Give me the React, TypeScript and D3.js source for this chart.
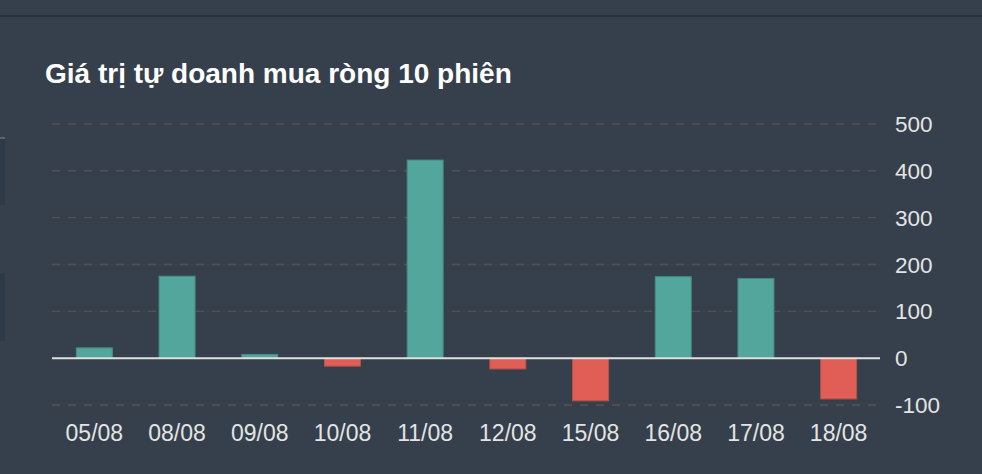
import React from "react";
import * as d3 from "d3";

const categories = ["05/08", "08/08", "09/08", "10/08", "11/08", "12/08", "15/08", "16/08", "17/08", "18/08"];
const values = [22, 175, 8, -17, 423, -23, -91, 174, 170, -87];
const yTicks = [-100, 0, 100, 200, 300, 400, 500];
const title = "Giá trị tự doanh mua ròng 10 phiên";

const W = 982;
const H = 474;
const FONT = "'Liberation Sans', Arial, Helvetica, sans-serif";

export default function App() {
  const x = d3
    .scaleBand<string>()
    .domain(categories)
    .range([53, 880])
    .paddingInner(0.565)
    .paddingOuter(0.2825);
  const y = d3.scaleLinear().domain([-100, 500]).range([405, 124]);
  const y0 = y(0);

  return (
    <div style={{ position: "absolute", left: 0, top: 0, width: W, height: H, background: "#35404c" }}>
      <svg width={W} height={H} style={{ display: "block" }}>
        <rect x={0} y={0} width={W} height={H} fill="#35404c" />
        <rect x={0} y={15} width={W} height={2} fill="#28303a" />
        <rect x={0} y={137} width={5} height={68} fill="#2f3a48" />
        <rect x={0} y={137} width={5} height={2} fill="#59636e" />
        <rect x={0} y={273} width={5} height={68} fill="#2f3a48" />
        <text x={45} y={83} fill="#ffffff" fontFamily={FONT} fontWeight="bold" fontSize={28}>
          {title}
        </text>
        {yTicks.map((t) => (
          <g key={t}>
            {t !== 0 && (
              <line
                x1={52}
                x2={879}
                y1={y(t)}
                y2={y(t)}
                stroke="#5c5049"
                strokeWidth={1.3}
                strokeDasharray="8,8"
              />
            )}
            <text
              x={895}
              y={y(t) + 8}
              fill="#e4e4e4"
              fontFamily={FONT}
              fontSize={22.5}
            >
              {t}
            </text>
          </g>
        ))}
        {categories.map((c, i) => {
          const v = values[i];
          const pos = v >= 0;
          const top = pos ? y(v) : y0;
          const h = Math.abs(y(v) - y0);
          return (
            <rect
              key={c}
              x={x(c)}
              y={top}
              width={x.bandwidth()}
              height={h}
              fill={pos ? "#53a69b" : "#e05e56"}
              stroke={pos ? "#468c84" : "#b8514c"}
              strokeWidth={1}
            />
          );
        })}
        <line x1={52} x2={880} y1={y0} y2={y0} stroke="#e0e0e0" strokeWidth={2} />
        {categories.map((c) => (
          <text
            key={c}
            x={(x(c) as number) + x.bandwidth() / 2}
            y={441}
            textAnchor="middle"
            fill="#e4e4e4"
            fontFamily={FONT}
            fontSize={23}
          >
            {c}
          </text>
        ))}
      </svg>
    </div>
  );
}
